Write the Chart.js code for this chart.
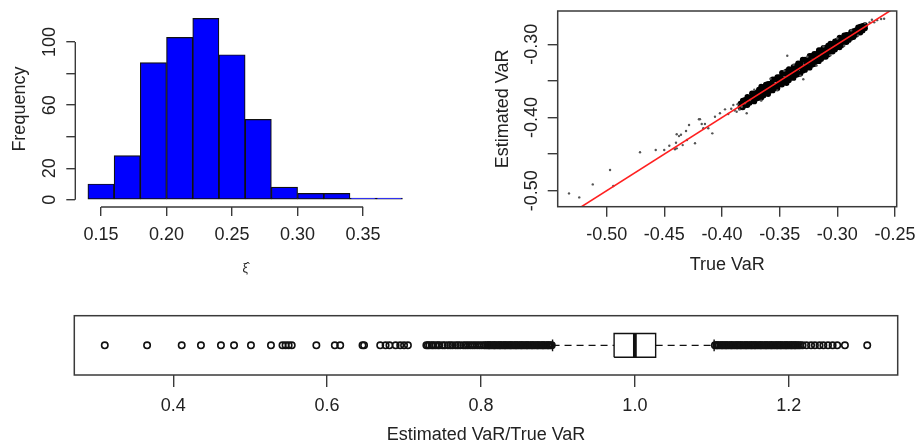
<!DOCTYPE html>
<html lang="en">
<head>
<meta charset="UTF-8">
<title>VaR simulation</title>
<script src="https://cdn.jsdelivr.net/npm/chart.js"></script>
<style>
    html, body { margin: 0; padding: 0; background: #fff; overflow: hidden; }
    #wrap { position: relative; width: 916px; height: 446px; }
    canvas { position: absolute; }
</style>
</head>
<body>
<div id="wrap">
    <canvas id="histChart" width="420" height="280" style="left:0;top:0"></canvas>
    <canvas id="scatterChart" width="456" height="280" style="left:460px;top:0"></canvas>
    <canvas id="boxChart" width="916" height="160" style="left:0;top:290px"></canvas>
</div>
<script>
// histogram of xi
const histBreaks = [0.14, 0.16, 0.18, 0.20, 0.22, 0.24, 0.26, 0.28, 0.30, 0.32, 0.34, 0.36, 0.38];
const histCounts = [10, 28, 87, 103, 115, 92, 51, 8, 4, 4, 1, 1];
const histTicksX = [0.15, 0.20, 0.25, 0.30, 0.35];
const histTicksY = [0, 20, 40, 60, 80, 100];
const histLabelsY = [0, 20, 60, 100];

// true vs estimated VaR  [true, estimated]
const bandPoints = [
    [-0.384,-0.381],[-0.382,-0.377],[-0.380,-0.376],[-0.378,-0.372],[-0.376,-0.373],[-0.374,-0.367],
    [-0.372,-0.367],[-0.370,-0.366],[-0.368,-0.362],[-0.366,-0.358],[-0.364,-0.359],[-0.362,-0.355],
    [-0.360,-0.354],[-0.358,-0.354],[-0.356,-0.348],[-0.354,-0.348],[-0.352,-0.345],[-0.350,-0.345],
    [-0.348,-0.339],[-0.346,-0.340],[-0.344,-0.337],[-0.342,-0.334],[-0.340,-0.335],[-0.338,-0.331],
    [-0.336,-0.330],[-0.334,-0.326],[-0.332,-0.326],[-0.330,-0.321],[-0.328,-0.321],[-0.326,-0.321],
    [-0.324,-0.316],[-0.322,-0.316],[-0.320,-0.313],[-0.318,-0.313],[-0.316,-0.308],[-0.314,-0.308],
    [-0.312,-0.305],[-0.310,-0.305],[-0.308,-0.302],[-0.306,-0.299],[-0.304,-0.300],[-0.302,-0.296],
    [-0.300,-0.295],[-0.298,-0.291],[-0.296,-0.292],[-0.294,-0.288],[-0.292,-0.287],[-0.290,-0.287],
    [-0.288,-0.283],[-0.286,-0.282],[-0.284,-0.281],[-0.282,-0.277],[-0.280,-0.276],[-0.278,-0.275],
    [-0.276,-0.274],
    [-0.384,-0.386],[-0.382,-0.386],[-0.380,-0.383],[-0.378,-0.383],[-0.376,-0.380],[-0.374,-0.377],
    [-0.372,-0.378],[-0.370,-0.374],[-0.368,-0.373],[-0.366,-0.373],[-0.364,-0.370],[-0.362,-0.366],
    [-0.360,-0.368],[-0.358,-0.363],[-0.356,-0.363],[-0.354,-0.360],[-0.352,-0.360],[-0.350,-0.355],
    [-0.348,-0.355],[-0.346,-0.352],[-0.344,-0.353],[-0.342,-0.349],[-0.340,-0.345],[-0.338,-0.346],
    [-0.336,-0.342],[-0.334,-0.341],[-0.332,-0.340],[-0.330,-0.336],[-0.328,-0.335],[-0.326,-0.331],
    [-0.324,-0.332],[-0.322,-0.328],[-0.320,-0.327],[-0.318,-0.323],[-0.316,-0.323],[-0.314,-0.320],
    [-0.312,-0.317],[-0.310,-0.317],[-0.308,-0.314],[-0.306,-0.310],[-0.304,-0.310],[-0.302,-0.307],
    [-0.300,-0.304],[-0.298,-0.304],[-0.296,-0.301],[-0.294,-0.297],[-0.292,-0.297],[-0.290,-0.294],
    [-0.288,-0.291],[-0.286,-0.290],[-0.284,-0.287],[-0.282,-0.284],[-0.280,-0.284],[-0.278,-0.281],
    [-0.276,-0.278],
    [-0.383,-0.382],[-0.379,-0.380],[-0.375,-0.374],[-0.371,-0.372],[-0.367,-0.366],[-0.363,-0.364],
    [-0.359,-0.358],[-0.355,-0.356],[-0.351,-0.350],[-0.347,-0.348],[-0.343,-0.342],[-0.339,-0.340],
    [-0.335,-0.334],[-0.331,-0.332],[-0.327,-0.326],[-0.323,-0.324],[-0.319,-0.318],[-0.315,-0.316],
    [-0.311,-0.310],[-0.307,-0.308],[-0.303,-0.302],[-0.299,-0.300],[-0.295,-0.294],[-0.291,-0.292],
    [-0.287,-0.286],[-0.283,-0.284],[-0.279,-0.278],
    [-0.381,-0.379],[-0.377,-0.378],[-0.373,-0.370],[-0.369,-0.371],[-0.365,-0.363],[-0.361,-0.362],
    [-0.357,-0.353],[-0.353,-0.357],[-0.349,-0.346],[-0.345,-0.348],[-0.341,-0.338],[-0.337,-0.339],
    [-0.333,-0.330],[-0.329,-0.332],[-0.325,-0.322],[-0.321,-0.324],[-0.317,-0.315],[-0.313,-0.316],
    [-0.309,-0.307],[-0.305,-0.307],[-0.301,-0.298],[-0.297,-0.299],[-0.293,-0.291],[-0.289,-0.290],
    [-0.285,-0.283],[-0.281,-0.282]
];
const loosePoints = [
    [-0.5327,-0.5037],[-0.5238,-0.5092],[-0.5121,-0.4914],[-0.4971,-0.4718],[-0.4943,-0.4937],
    [-0.4711,-0.4476],[-0.4575,-0.4445],[-0.4501,-0.4445],[-0.4457,-0.4386],[-0.4408,-0.4435],
    [-0.4393,-0.4422],[-0.4399,-0.4345],[-0.4393,-0.4230],[-0.4373,-0.4254],[-0.4356,-0.4236],
    [-0.4341,-0.4377],[-0.4312,-0.4185],[-0.4304,-0.4308],[-0.4286,-0.4103],[-0.4234,-0.4353],
    [-0.4200,-0.4025],[-0.4176,-0.4090],[-0.4162,-0.4148],[-0.4191,-0.4023],[-0.4148,-0.4090],
    [-0.4119,-0.4148],[-0.4084,-0.4217],[-0.4061,-0.3990],[-0.4018,-0.3943],[-0.3974,-0.3889],
    [-0.3946,-0.3953],[-0.3902,-0.3830],[-0.3873,-0.3921],[-0.3829,-0.3853],[-0.3801,-0.3807],
    [-0.3786,-0.3943],[-0.3757,-0.3761],[-0.3434,-0.3156],[-0.3295,-0.3478],
    [-0.372,-0.362],[-0.366,-0.377],[-0.358,-0.347],[-0.352,-0.363],[-0.346,-0.336],[-0.338,-0.328],
    [-0.332,-0.343],[-0.326,-0.317],[-0.318,-0.329],[-0.312,-0.303],[-0.306,-0.315],[-0.300,-0.292],
    [-0.294,-0.302],[-0.288,-0.281],[-0.282,-0.288],[-0.276,-0.271],[-0.272,-0.270],[-0.2680,-0.2700],
    [-0.2655,-0.2670],[-0.2620,-0.2655],[-0.2594,-0.2650],[-0.2700,-0.2665],
    [-0.3920,-0.3880],[-0.3890,-0.3905],[-0.3865,-0.3820],[-0.3850,-0.3890]
];
const refLine = [-0.56, -0.24];
const scatterTicksX = [-0.50, -0.45, -0.40, -0.35, -0.30, -0.25];
const scatterTicksY = [-0.50, -0.45, -0.40, -0.35, -0.30];
const scatterLabelsY = [-0.50, -0.40, -0.30];

// boxplot of estimated/true
const boxStats = [0.893, 0.973, 1.000, 1.027, 1.103]; // whisker lo, q1, median, q3, whisker hi
const lowOutliers = [
    0.311, 0.366, 0.411, 0.436, 0.462, 0.479, 0.501, 0.527, 0.542, 0.546, 0.550, 0.554, 0.586,
    0.610, 0.617, 0.646, 0.648, 0.669, 0.676, 0.681, 0.689, 0.695, 0.700, 0.705,
    0.729, 0.731, 0.733, 0.736, 0.738, 0.741, 0.744, 0.746, 0.750, 0.753, 0.757, 0.760, 0.763,
    0.767, 0.770, 0.773, 0.777, 0.780, 0.783, 0.786, 0.789, 0.792, 0.795, 0.798, 0.801, 0.804,
    0.806, 0.808, 0.810, 0.811, 0.813, 0.815, 0.817, 0.818, 0.820, 0.822, 0.824, 0.825, 0.827,
    0.829, 0.831, 0.832, 0.834, 0.836, 0.838, 0.839, 0.841, 0.843, 0.845, 0.846, 0.848, 0.850,
    0.852, 0.853, 0.855, 0.857, 0.859, 0.860, 0.862, 0.864, 0.866, 0.867, 0.869, 0.871, 0.873,
    0.874, 0.876, 0.878, 0.880, 0.881, 0.883, 0.885, 0.887, 0.888, 0.890, 0.892
];
const highOutliers = [
    1.104, 1.106, 1.107, 1.109, 1.111, 1.113, 1.114, 1.116, 1.118, 1.119, 1.121, 1.123, 1.125,
    1.126, 1.128, 1.130, 1.132, 1.133, 1.135, 1.137, 1.138, 1.140, 1.142, 1.144, 1.145, 1.147,
    1.149, 1.151, 1.152, 1.154, 1.156, 1.157, 1.159, 1.161, 1.163, 1.164, 1.166, 1.168, 1.170,
    1.171, 1.173, 1.175, 1.177, 1.178, 1.180, 1.182, 1.184, 1.185, 1.187, 1.189, 1.190, 1.192,
    1.194, 1.196, 1.197, 1.199, 1.201, 1.203, 1.204, 1.206, 1.208, 1.209, 1.211, 1.213, 1.215,
    1.218, 1.223, 1.229, 1.234, 1.240, 1.245, 1.251, 1.257, 1.263, 1.273, 1.302
];
const boxTicks = [0.4, 0.6, 0.8, 1.0, 1.2];

const ink = '#222';
const axisCol = '#3a3a3a';
Chart.defaults.font.family = '"Liberation Sans", Arial, sans-serif';
Chart.defaults.font.size = 18;
Chart.defaults.color = ink;
Chart.defaults.animation = false;

const fixTicks = list => scale => { scale.ticks = list.map(v => ({value: v})); };
const near = (list, v) => list.some(t => Math.abs(t - v) < 1e-9);

// frame around the plot region
const framePlugin = {
    id: 'frame',
    afterDraw(chart) {
        const {ctx, chartArea: a} = chart;
        ctx.save();
        ctx.strokeStyle = axisCol;
        ctx.lineWidth = 1.5;
        ctx.strokeRect(a.left, a.top, a.right - a.left, a.bottom - a.top);
        ctx.restore();
    }
};

// R-style axis lines that only span the ticks
const histAxes = {
    id: 'histAxes',
    afterDraw(chart) {
        const {ctx, chartArea: a, scales: {x, y}} = chart;
        ctx.save();
        ctx.strokeStyle = axisCol;
        ctx.lineWidth = 1.4;
        ctx.beginPath();
        ctx.moveTo(x.getPixelForValue(histTicksX[0]), a.bottom);
        ctx.lineTo(x.getPixelForValue(histTicksX[histTicksX.length - 1]), a.bottom);
        ctx.moveTo(a.left, y.getPixelForValue(histTicksY[0]));
        ctx.lineTo(a.left, y.getPixelForValue(histTicksY[histTicksY.length - 1]));
        ctx.stroke();
        ctx.restore();
    }
};

const tickGrid = len => ({display: true, offset: false, drawOnChartArea: false, drawTicks: true, tickLength: len,
    color: axisCol, tickColor: axisCol, lineWidth: 1.4});

// histogram
const histData = histCounts.map((c, i) => ({x: (histBreaks[i] + histBreaks[i + 1]) / 2, y: c}));
new Chart(document.getElementById('histChart'), {
    type: 'bar',
    data: {
        datasets: [{
            data: histData,
            backgroundColor: '#0000ff',
            borderColor: '#111',
            borderWidth: 1.2,
            borderSkipped: false,
            barPercentage: 1,
            categoryPercentage: 1
        }]
    },
    options: {
        responsive: false,
        events: [],
        layout: {padding: {left: 0, top: 11.2, right: 5, bottom: 0}},
        plugins: {legend: {display: false}, tooltip: {enabled: false}},
        scales: {
            x: {
                type: 'linear', min: 0.1304, max: 0.3896, offset: false,
                afterBuildTicks: fixTicks(histTicksX),
                afterFit: s => { s.height = 73; s.paddingLeft = 0; s.paddingRight = 0; },
                ticks: {autoSkip: false, maxRotation: 0, padding: 8, callback: v => v.toFixed(2)},
                grid: tickGrid(9),
                border: {display: false},
                title: {display: true, text: 'ξ̂', font: {size: 12}, padding: {top: 10}}
            },
            y: {
                min: -4.6, max: 119.6,
                afterBuildTicks: fixTicks(histTicksY),
                afterFit: s => { s.width = 75.3; s.paddingTop = 0; s.paddingBottom = 0; },
                ticks: {autoSkip: false, minRotation: 90, maxRotation: 90, crossAlign: 'center', padding: 1.3,
                    callback: v => near(histLabelsY, v) ? String(v) : ''},
                grid: tickGrid(9),
                border: {display: false},
                title: {display: true, text: 'Frequency', padding: {top: 9}}
            }
        }
    },
    plugins: [histAxes]
});

// scatter true vs estimated
const toXY = p => ({x: p[0], y: p[1]});
new Chart(document.getElementById('scatterChart'), {
    type: 'scatter',
    data: {
        datasets: [
            {
                type: 'line',
                data: refLine.map(v => ({x: v, y: v})),
                borderColor: '#ff2020',
                borderWidth: 1.6,
                pointRadius: 0
            },
            {
                data: loosePoints.map(toXY),
                pointRadius: 1.2,
                pointBorderWidth: 0,
                pointBackgroundColor: '#555'
            },
            {
                data: bandPoints.map(toXY),
                pointRadius: 2.9,
                pointBorderWidth: 0,
                pointBackgroundColor: '#000'
            }
        ]
    },
    options: {
        responsive: false,
        events: [],
        layout: {padding: {left: 0, top: 11, right: 19.3, bottom: 0}},
        plugins: {legend: {display: false}, tooltip: {enabled: false}},
        scales: {
            x: {
                type: 'linear', min: -0.5425, max: -0.2485,
                afterBuildTicks: fixTicks(scatterTicksX),
                afterFit: s => { s.height = 73.3; s.paddingLeft = 0; s.paddingRight = 0; },
                ticks: {autoSkip: false, maxRotation: 0, padding: 7.5, callback: v => v.toFixed(2)},
                grid: tickGrid(10),
                border: {display: false},
                title: {display: true, text: 'True VaR', padding: {top: 14}}
            },
            y: {
                type: 'linear', min: -0.5219, max: -0.2545,
                afterBuildTicks: fixTicks(scatterTicksY),
                afterFit: s => { s.width = 97.7; s.paddingTop = 0; s.paddingBottom = 0; },
                ticks: {autoSkip: false, minRotation: 90, maxRotation: 90, crossAlign: 'center', padding: -4.5,
                    callback: v => near(scatterLabelsY, v) ? v.toFixed(2) : ''},
                grid: tickGrid(10),
                border: {display: false},
                title: {display: true, text: 'Estimated VaR', padding: {top: 32.5}}
            }
        }
    },
    plugins: [framePlugin]
});

// horizontal boxplot
const [wLo, q1, med, q3, wHi] = boxStats;
const seg = (x0, y0, x1, y1) => [{x: x0, y: y0}, {x: x1, y: y1}];
const lineSet = (data, extra) => Object.assign({
    data, showLine: true, pointRadius: 0, borderColor: '#111', borderWidth: 1.4
}, extra || {});
new Chart(document.getElementById('boxChart'), {
    type: 'scatter',
    data: {
        datasets: [
            lineSet([{x: q1, y: 0.3}, {x: q3, y: 0.3}, {x: q3, y: 0.7}, {x: q1, y: 0.7}, {x: q1, y: 0.3}]),
            lineSet(seg(med, 0.3, med, 0.7), {borderWidth: 3.8}),
            lineSet(seg(wLo, 0.5, q1, 0.5), {borderDash: [7, 5]}),
            lineSet(seg(q3, 0.5, wHi, 0.5), {borderDash: [7, 5]}),
            lineSet(seg(wLo, 0.4, wLo, 0.6)),
            lineSet(seg(wHi, 0.4, wHi, 0.6)),
            {
                data: lowOutliers.concat(highOutliers).map(v => ({x: v, y: 0.5})),
                pointRadius: 3.2,
                pointBorderWidth: 1.6,
                pointBorderColor: '#111',
                pointBackgroundColor: 'rgba(0,0,0,0)'
            }
        ]
    },
    options: {
        responsive: false,
        events: [],
        layout: {padding: {left: 74.3, top: 25.7, right: 18.3, bottom: 0}},
        plugins: {legend: {display: false}, tooltip: {enabled: false}},
        scales: {
            x: {
                type: 'linear', min: 0.2714, max: 1.3416,
                afterBuildTicks: fixTicks(boxTicks),
                afterFit: s => { s.height = 75; s.paddingLeft = 0; s.paddingRight = 0; },
                ticks: {autoSkip: false, maxRotation: 0, padding: 8, callback: v => v.toFixed(1)},
                grid: tickGrid(12),
                border: {display: false},
                title: {display: true, text: 'Estimated VaR/True VaR', padding: {top: 2}}
            },
            y: {type: 'linear', min: 0, max: 1, display: false}
        }
    },
    plugins: [framePlugin]
});
</script>
</body>
</html>
